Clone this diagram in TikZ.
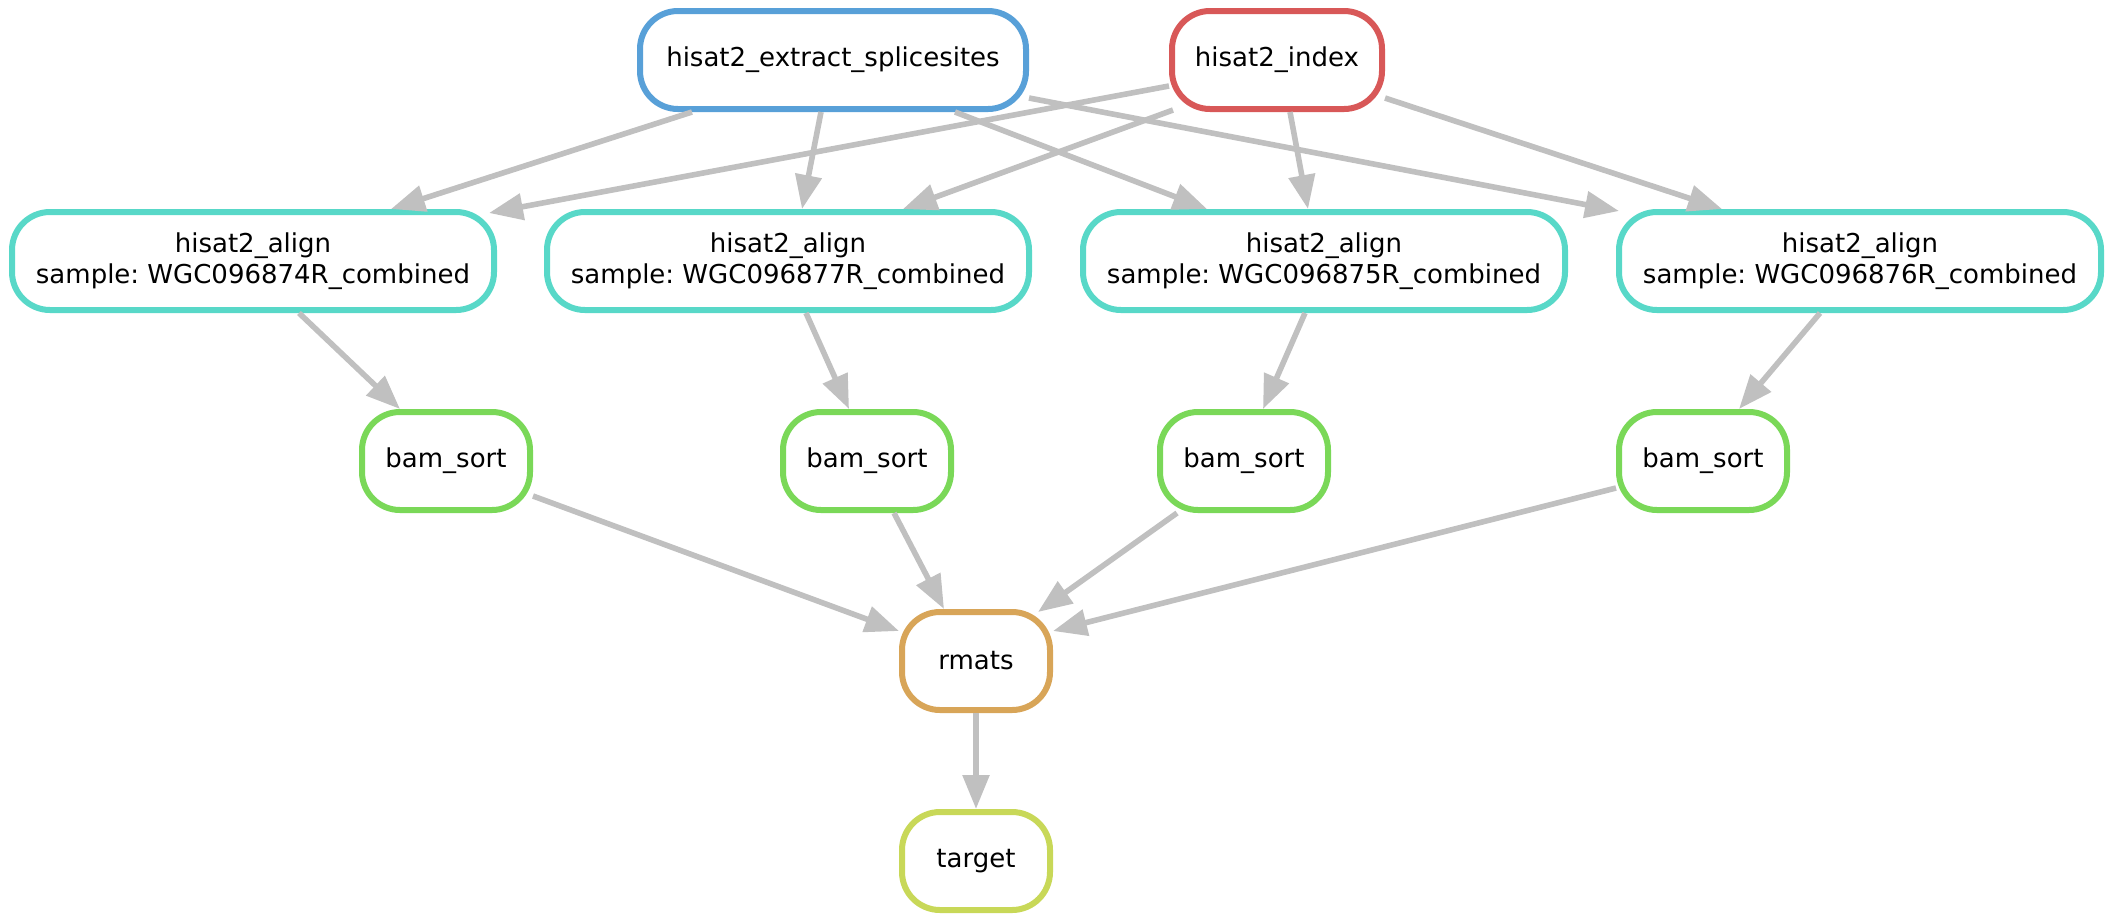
\documentclass[tikz,border=0pt]{standalone}
\usepackage{fontspec}
\setmainfont{DejaVu Sans}
\frenchspacing
\usetikzlibrary{arrows.meta}

\definecolor{ruleblue}{RGB}{88,160,216}
\definecolor{rulered}{RGB}{216,88,88}
\definecolor{ruleteal}{RGB}{88,216,200}
\definecolor{rulegreen}{RGB}{122,216,88}
\definecolor{ruleorange}{RGB}{216,165,88}
\definecolor{ruleyellow}{RGB}{200,216,88}
\definecolor{edgegray}{RGB}{192,192,192}

\tikzset{
  job/.style={draw, fill=white, rounded corners=19pt, line width=3pt,
    align=center, inner sep=0pt, minimum height=49pt,
    font=\fontsize{13pt}{15.5pt}\selectfont},
  dep/.style={draw=edgegray, line width=2.8pt,
    -{Triangle[length=17pt,width=13pt]}}
}

\begin{document}
\begin{tikzpicture}[x=0.5pt,y=-0.5pt]
\useasboundingbox (0,0) rectangle (2114,923);
% rules
\node[job,draw=ruleblue,minimum width=193pt] (ext) at (833,60) {hisat2\_extract\_splicesites};
\node[job,draw=rulered,minimum width=105pt] (idx) at (1277,60) {hisat2\_index};
\node[job,draw=ruleteal,minimum width=241pt] (al1) at (253,261) {hisat2\_align\\sample: WGC096874R\_combined};
\node[job,draw=ruleteal,minimum width=241pt] (al2) at (788,261) {hisat2\_align\\sample: WGC096877R\_combined};
\node[job,draw=ruleteal,minimum width=241pt] (al3) at (1324,261) {hisat2\_align\\sample: WGC096875R\_combined};
\node[job,draw=ruleteal,minimum width=241pt] (al4) at (1860,261) {hisat2\_align\\sample: WGC096876R\_combined};
\node[job,draw=rulegreen,minimum width=84pt] (bam1) at (446,461) {bam\_sort};
\node[job,draw=rulegreen,minimum width=84pt] (bam2) at (867,461) {bam\_sort};
\node[job,draw=rulegreen,minimum width=84pt] (bam3) at (1244,461) {bam\_sort};
\node[job,draw=rulegreen,minimum width=84pt] (bam4) at (1703,461) {bam\_sort};
\node[job,draw=ruleorange,minimum width=74pt] (rmats) at (976,661) {rmats};
\node[job,draw=ruleyellow,minimum width=74pt] (target) at (976,861) {target};
% dependencies
\draw[dep] ([xshift=-70.5pt]ext.south) -- ([xshift=69pt]al1.north);
\draw[dep] ([xshift=-6pt]ext.south) -- ([xshift=7pt]al2.north);
\draw[dep] ([xshift=61pt]ext.south) -- ([xshift=-58.5pt]al3.north);
\draw[dep] ([yshift=-19pt]ext.east) -- ([xshift=1.5pt,yshift=-1pt]al4.north west);
\draw[dep] ([yshift=-13pt]idx.west) -- ([xshift=-4pt,yshift=-2pt]al1.north east);
\draw[dep] ([xshift=2pt,yshift=1pt]idx.south west) -- ([xshift=57.5pt]al2.north);
\draw[dep] ([xshift=6.5pt]idx.south) -- ([xshift=-8pt]al3.north);
\draw[dep] ([yshift=-19pt]idx.east) -- ([xshift=-69pt]al4.north);
\draw[dep] ([xshift=23pt]al1.south) -- ([xshift=-23pt]bam1.north);
\draw[dep] ([xshift=9pt]al2.south) -- ([xshift=-9pt]bam2.north);
\draw[dep] ([xshift=-9.5pt]al3.south) -- ([xshift=9.5pt]bam3.north);
\draw[dep] ([xshift=-20pt]al4.south) -- ([xshift=18pt]bam4.north);
\draw[dep] ([yshift=-17.5pt]bam1.east) -- ([yshift=15pt]rmats.west);
\draw[dep] ([xshift=13.5pt]bam2.south) -- ([xshift=-16pt]rmats.north);
\draw[dep] ([xshift=-33.5pt]bam3.south) -- ([xshift=31pt,yshift=-1.5pt]rmats.north);
\draw[dep] ([yshift=-13.5pt]bam4.west) -- ([yshift=15pt]rmats.east);
\draw[dep] (rmats) -- (target);
\end{tikzpicture}
\end{document}
